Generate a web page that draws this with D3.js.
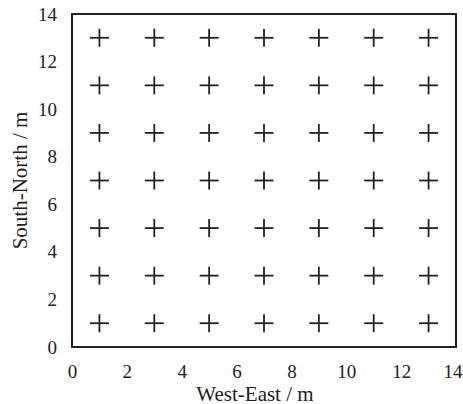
<!DOCTYPE html>
<html>
<head>
<meta charset="utf-8">
<script src="https://cdn.jsdelivr.net/npm/d3@7"></script>
<style>
  body { margin: 0; background: #fff; }
</style>
</head>
<body>
<div id="chart"></div>
<script>
// sensor positions (m)
var xPositions = [1, 3, 5, 7, 9, 11, 13];
var yPositions = [1, 3, 5, 7, 9, 11, 13];
var xTicks = [0, 2, 4, 6, 8, 10, 12, 14];
var yTicks = [0, 2, 4, 6, 8, 10, 12, 14];
var xTitle = "West-East / m";
var yTitle = "South-North / m";

var FONT = "'Liberation Serif', 'Times New Roman', Times, 'DejaVu Serif', serif";

var W = 463, H = 404;
var margin = { top: 14, right: 7, bottom: 57, left: 72 },
    width = W - margin.left - margin.right,
    height = H - margin.top - margin.bottom;

var svg = d3.select("#chart").append("svg")
    .attr("width", W)
    .attr("height", H)
    .attr("font-family", FONT);

var g = svg.append("g")
    .attr("transform", "translate(" + margin.left + "," + margin.top + ")");

var x = d3.scaleLinear().domain([0, 14]).range([0, width]);
var y = d3.scaleLinear().domain([0, 14]).range([height, 0]);

// axes without tick lines
var xAxis = g.append("g")
    .attr("transform", "translate(0," + height + ")")
    .call(d3.axisBottom(x).tickValues(xTicks).tickSize(0).tickPadding(18));
var yAxis = g.append("g")
    .call(d3.axisLeft(y).tickValues(yTicks).tickSize(0).tickPadding(15));
[xAxis, yAxis].forEach(function(a){
  a.attr("font-family", FONT).attr("font-size", 19);
  a.select(".domain").remove();
  a.selectAll("text").attr("fill", "#222");
});
// last x label kept inside the page
xAxis.selectAll(".tick text")
    .filter(function(d){ return d === 14; })
    .attr("text-anchor", "end")
    .attr("dx", 6);

// frame
g.append("rect")
    .attr("x", 0).attr("y", 0)
    .attr("width", width).attr("height", height)
    .attr("fill", "none")
    .attr("stroke", "#222")
    .attr("stroke-width", 2);

// plus markers
var pts = [];
yPositions.forEach(function(py){
  xPositions.forEach(function(px){ pts.push([px, py]); });
});
var s = 9;
var plus = g.selectAll(".pt").data(pts).enter().append("g")
    .attr("class", "pt")
    .attr("transform", function(d){ return "translate(" + x(d[0]) + "," + y(d[1]) + ")"; });
plus.append("line").attr("x1", -s - 0.5).attr("x2", s + 0.5).attr("y1", 0).attr("y2", 0);
plus.append("line").attr("x1", 0).attr("x2", 0).attr("y1", -s).attr("y2", s);
plus.selectAll("line").attr("stroke", "#222").attr("stroke-width", 1.8);

// titles
svg.append("text")
    .attr("x", 255)
    .attr("y", 401)
    .attr("text-anchor", "middle")
    .attr("font-size", 21)
    .attr("fill", "#222")
    .text(xTitle);
svg.append("text")
    .attr("transform", "translate(27," + (margin.top + height / 2) + ") rotate(-90)")
    .attr("text-anchor", "middle")
    .attr("font-size", 21)
    .attr("fill", "#222")
    .text(yTitle);
</script>
</body>
</html>
